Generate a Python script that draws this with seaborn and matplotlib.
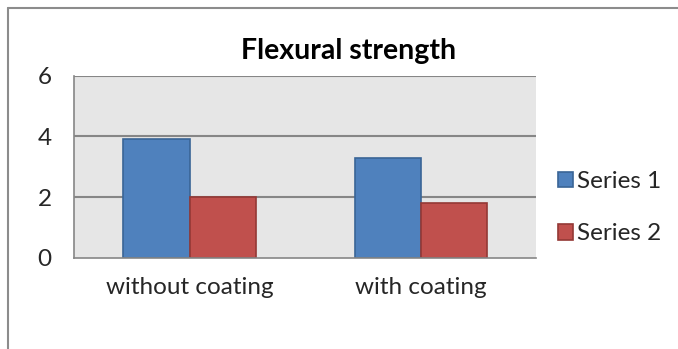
import matplotlib
matplotlib.use("Agg")
import matplotlib.pyplot as plt
from matplotlib.lines import Line2D
from matplotlib.patches import Patch
import pandas as pd
import seaborn as sns

categories = ["without coating", "with coating"]
series_names = ["Series 1", "Series 2"]
series1 = [3.9, 3.3]
series2 = [2.0, 1.8]
y_ticks = [0, 2, 4, 6]

df = pd.DataFrame({
    "category": categories * 2,
    "series": [series_names[0]] * 2 + [series_names[1]] * 2,
    "value": series1 + series2,
})

sns.set_theme(style="white")
plt.rcParams["font.family"] = ["Lato", "DejaVu Sans"]

fill_colors = ["#4f81bd", "#c0504d"]
edge_colors = ["#3a6596", "#943835"]
axis_gray = "#868686"

fig = plt.figure(figsize=(6.78, 3.49), dpi=100)
ax = fig.add_axes([0.109, 0.2616, 0.682, 0.5214])
ax.set_facecolor("#e6e6e6")

sns.barplot(data=df, x="category", y="value", hue="series", order=categories,
            hue_order=series_names, palette=fill_colors, width=0.572, gap=0,
            saturation=1, legend=False, ax=ax)

for cont, ec in zip(ax.containers, edge_colors):
    for bar in cont:
        bar.set_edgecolor(ec)
        bar.set_linewidth(1.2)

ax.set_xlim(-0.5, 1.5)
ax.set_ylim(0, 6)
ax.set_yticks(y_ticks)
ax.set_yticklabels([str(t) for t in y_ticks])
for t in y_ticks[1:]:
    ax.axhline(t, color=axis_gray, lw=1.5, zorder=0.5)

ax.set_xticks([0, 1])
ax.set_xticklabels(categories)
ax.set_xticks([-0.5, 0.5, 1.5], minor=True)
ax.tick_params(axis="x", which="major", length=0, pad=14, labelsize=17.5)
ax.tick_params(axis="x", which="minor", length=6, width=1.2, color=axis_gray, direction="out")
ax.tick_params(axis="y", length=6, width=1.2, color=axis_gray, direction="out", pad=10, labelsize=17.5)
ax.set_xlabel("")
ax.set_ylabel("")

for s in ["top", "right"]:
    ax.spines[s].set_visible(False)
for s in ["left", "bottom"]:
    ax.spines[s].set_color(axis_gray)
    ax.spines[s].set_linewidth(1.2)

fig.text(0.514, 0.855, "Flexural strength", ha="center", va="center",
         fontsize=20.5, fontweight="bold", color="black")

handles = [Patch(facecolor=c, edgecolor=e, linewidth=1.2) for c, e in zip(fill_colors, edge_colors)]
fig.legend(handles, series_names, loc="center left", bbox_to_anchor=(0.823, 0.405),
           frameon=False, fontsize=17.5, handlelength=0.6, handleheight=0.6,
           handletextpad=0.2, labelspacing=1.3, borderpad=0, borderaxespad=0)

# chart border (top and left visible in the crop)
fig.add_artist(Line2D([8 / 678, 8 / 678], [0, 1 - 7.5 / 349], color="#8c8c8c", lw=1.5))
fig.add_artist(Line2D([8 / 678, 1], [1 - 7.5 / 349, 1 - 7.5 / 349], color="#8c8c8c", lw=1.5))

fig.savefig("out.png", dpi=100)
